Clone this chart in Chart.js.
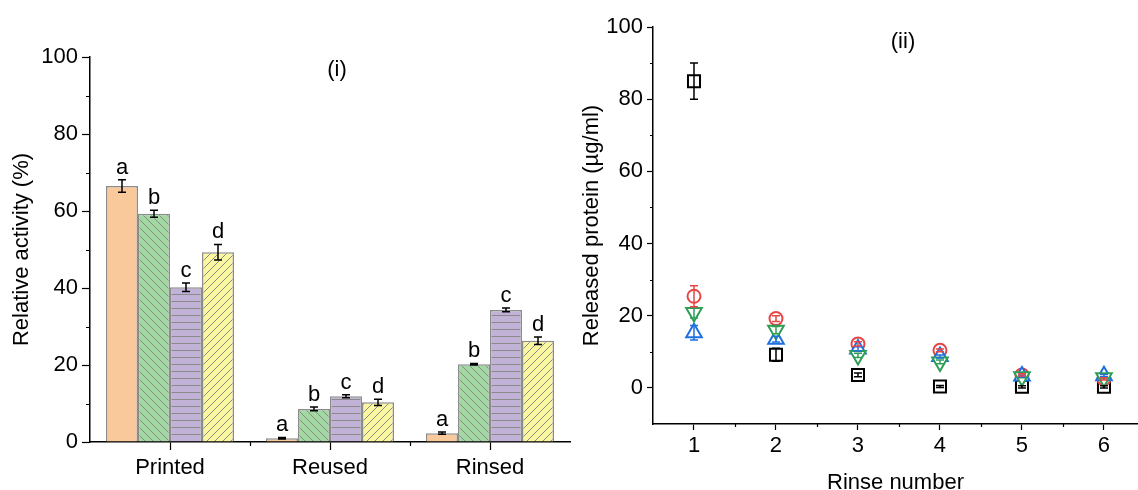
<!DOCTYPE html>
<html>
<head>
<meta charset="utf-8">
<script src="https://cdn.jsdelivr.net/npm/chart.js@4.4.1/dist/chart.umd.min.js"></script>
<style>
  html, body { margin: 0; padding: 0; background: #fff; overflow: hidden; width: 1138px; height: 490px; }
  #left { position: absolute; left: 0; top: 0; }
  #right { position: absolute; left: 560px; top: 0; }
</style>
</head>
<body>
<canvas id="left" width="585" height="490"></canvas>
<canvas id="right" width="578" height="490"></canvas>
<script>
// ---- Panel (i): relative activity per condition ----
const groups = ['Printed', 'Reused', 'Rinsed'];
const activityOrange = [66.5, 1.0, 2.3];
const activityOrangeErr = [1.6, 0.2, 0.3];
const activityGreen = [59.3, 8.6, 20.2];
const activityGreenErr = [0.9, 0.5, 0.2];
const activityPurple = [40.2, 11.9, 34.3];
const activityPurpleErr = [1.1, 0.4, 0.5];
const activityYellow = [49.3, 10.3, 26.3];
const activityYellowErr = [2.0, 0.8, 1.0];
const groupLetters = ['a', 'b', 'c', 'd'];
const activityTicks = [0, 20, 40, 60, 80, 100];
const activityMinorTicks = [10, 30, 50, 70, 90];

// ---- Panel (ii): released protein per rinse ----
const rinses = [1, 2, 3, 4, 5, 6];
const proteinSquare = [85.0, 9.2, 3.6, 0.4, 0.3, 0.3];
const proteinSquareErr = [5.0, 1.8, 0.5, 0.3, 0.3, 0.3];
const proteinCircle = [25.4, 19.2, 12.2, 10.4, 3.6, 2.5];
const proteinCircleErr = [2.9, 0.8, 0.6, 0.4, 0.3, 0.3];
const proteinDown = [20.9, 16.0, 9.0, 7.2, 3.1, 2.8];
const proteinDownErr = [1.5, 1.0, 0.6, 0.5, 0.3, 0.3];
const proteinUp = [15.3, 13.5, 10.8, 8.7, 3.3, 3.4];
const proteinUpErr = [2.0, 0.8, 0.6, 0.4, 0.3, 0.3];
const proteinTicks = [0, 20, 40, 60, 80, 100];
const proteinMinorTicks = [10, 30, 50, 70, 90];
const rinseMinorTicks = [1.5, 2.5, 3.5, 4.5, 5.5];

Chart.defaults.font.family = "'Liberation Sans', Arial, sans-serif";
Chart.defaults.font.size = 22;
Chart.defaults.color = '#000';
Chart.defaults.animation = false;

const FONT = "22px 'Liberation Sans', Arial, sans-serif";

function hatch(ctx, bg, kind) {
  const h = kind === 'h' ? 7 : 8;
  const c = document.createElement('canvas');
  c.width = 8; c.height = h;
  const g = c.getContext('2d');
  g.fillStyle = bg; g.fillRect(0, 0, 8, h);
  g.strokeStyle = '#8a8a8a'; g.lineWidth = 1;
  g.beginPath();
  if (kind === 'h') {
    g.moveTo(0, 0.5); g.lineTo(8, 0.5);
  } else if (kind === 'back') {
    g.moveTo(-1, -1); g.lineTo(9, 9);
    g.moveTo(-1, 7); g.lineTo(1, 9);
    g.moveTo(7, -1); g.lineTo(9, 1);
  } else {
    g.moveTo(-1, 9); g.lineTo(9, -1);
    g.moveTo(-1, 1); g.lineTo(1, -1);
    g.moveTo(7, 9); g.lineTo(9, 7);
  }
  g.stroke();
  return ctx.createPattern(c, 'repeat');
}

// Error bars (and optional letters) from each dataset's "errors" array
const errorBars = {
  id: 'errorBars',
  afterDatasetsDraw(chart, args, opts) {
    const ctx = chart.ctx;
    const ys = chart.scales.y;
    ctx.save();
    chart.data.datasets.forEach((ds, i) => {
      if (!ds.errors) return;
      const meta = chart.getDatasetMeta(i);
      meta.data.forEach((el, j) => {
        const raw = ds.data[j];
        const v = typeof raw === 'object' ? raw.y : raw;
        const e = ds.errors[j];
        const top = ys.getPixelForValue(v + e);
        const bot = ys.getPixelForValue(v - e);
        const x = el.x;
        const cap = opts.cap || 4;
        ctx.strokeStyle = ds.errorColor || '#000';
        ctx.lineWidth = 1.5;
        ctx.beginPath();
        ctx.moveTo(x, top); ctx.lineTo(x, bot);
        ctx.moveTo(x - cap, top); ctx.lineTo(x + cap, top);
        ctx.moveTo(x - cap, bot); ctx.lineTo(x + cap, bot);
        ctx.stroke();
        if (ds.letter) {
          ctx.fillStyle = '#000';
          ctx.font = FONT;
          ctx.textAlign = 'center';
          ctx.textBaseline = 'alphabetic';
          ctx.fillText(ds.letter, x, top - 6);
        }
      });
    });
    ctx.restore();
  }
};

// Short minor tick marks on the axes
const minorTicks = {
  id: 'minorTicks',
  afterDraw(chart, args, opts) {
    const ctx = chart.ctx;
    const area = chart.chartArea;
    ctx.save();
    ctx.strokeStyle = '#000';
    ctx.lineWidth = 1.2;
    ctx.beginPath();
    (opts.x || []).forEach(v => {
      const px = Math.round(chart.scales.x.getPixelForValue(v)) + 0.5;
      ctx.moveTo(px, area.bottom); ctx.lineTo(px, area.bottom + opts.len);
    });
    (opts.y || []).forEach(v => {
      const py = Math.round(chart.scales.y.getPixelForValue(v)) + 0.5;
      ctx.moveTo(area.left, py); ctx.lineTo(area.left - opts.len, py);
    });
    ctx.stroke();
    ctx.restore();
  }
};

// Panel caption such as "(i)"
const panelLabel = {
  id: 'panelLabel',
  afterDraw(chart, args, opts) {
    const ctx = chart.ctx;
    ctx.save();
    ctx.fillStyle = '#000';
    ctx.font = FONT;
    ctx.textAlign = 'center';
    ctx.textBaseline = 'middle';
    ctx.fillText(opts.text, chart.chartArea.left + opts.dx, chart.chartArea.top + opts.dy);
    ctx.restore();
  }
};

function fixedTicks(values) {
  return function (scale) { scale.ticks = values.map(v => ({ value: v })); };
}

// ---------- Panel (i) ----------
const leftCtx = document.getElementById('left').getContext('2d');
const barCommon = {
  borderColor: '#8c8c8c',
  borderWidth: 1.5,
  categoryPercentage: 0.8,
  barPercentage: 1.0
};
new Chart(leftCtx, {
  type: 'bar',
  data: {
    labels: groups,
    datasets: [
      Object.assign({ data: activityOrange, errors: activityOrangeErr, letter: groupLetters[0],
        backgroundColor: '#f9c99c' }, barCommon),
      Object.assign({ data: activityGreen, errors: activityGreenErr, letter: groupLetters[1],
        backgroundColor: hatch(leftCtx, '#a2d8a2', 'back') }, barCommon),
      Object.assign({ data: activityPurple, errors: activityPurpleErr, letter: groupLetters[2],
        backgroundColor: hatch(leftCtx, '#c2b2d8', 'h') }, barCommon),
      Object.assign({ data: activityYellow, errors: activityYellowErr, letter: groupLetters[3],
        backgroundColor: hatch(leftCtx, '#fbf6a0', 'fwd') }, barCommon)
    ]
  },
  options: {
    responsive: false,
    layout: { autoPadding: false, padding: { top: 57, right: 15, left: 0, bottom: 0 } },
    plugins: {
      legend: { display: false },
      tooltip: { enabled: false },
      errorBars: { cap: 4 },
      minorTicks: { x: [0.5, 1.5], y: activityMinorTicks, len: 4 },
      panelLabel: { text: '(i)', dx: 247, dy: 13 }
    },
    scales: {
      x: {
        grid: { display: true, drawOnChartArea: false, offset: false, tickLength: 8, tickColor: '#000', tickWidth: 1.2 },
        border: { display: true, color: '#000', width: 1.5 },
        ticks: { padding: 5, font: { size: 22 } },
        afterFit(scale) { scale.height = 48; }
      },
      y: {
        min: 0, max: 100,
        afterBuildTicks: fixedTicks(activityTicks),
        grid: { display: true, drawOnChartArea: false, tickLength: 8, tickColor: '#000', tickWidth: 1.2 },
        border: { display: true, color: '#000', width: 1.5 },
        ticks: { padding: 4, font: { size: 22 } },
        title: { display: true, text: 'Relative activity (%)', font: { size: 22, lineHeight: 1.2 }, padding: { top: 9, bottom: 0 } },
        afterFit(scale) { scale.width = 90; }
      }
    }
  },
  plugins: [errorBars, minorTicks, panelLabel]
});

// ---------- Panel (ii) ----------
const rightCtx = document.getElementById('right').getContext('2d');
function pts(values) { return rinses.map((r, i) => ({ x: r, y: values[i] })); }
const markerCommon = { pointBorderWidth: 2, pointBackgroundColor: '#fff', showLine: false };
new Chart(rightCtx, {
  type: 'scatter',
  data: {
    datasets: [
      Object.assign({ data: pts(proteinDown), errors: proteinDownErr, errorColor: '#2e9e55',
        pointStyle: 'triangle', rotation: 180, pointRadius: 9, pointBorderColor: '#2e9e55' }, markerCommon),
      Object.assign({ data: pts(proteinUp), errors: proteinUpErr, errorColor: '#1f6fe0',
        pointStyle: 'triangle', pointRadius: 9, pointBorderColor: '#1f6fe0' }, markerCommon),
      Object.assign({ data: pts(proteinCircle), errors: proteinCircleErr, errorColor: '#e84545',
        pointStyle: 'circle', pointRadius: 6.5, pointBorderColor: '#e84545' }, markerCommon),
      Object.assign({ data: pts(proteinSquare), errors: proteinSquareErr, errorColor: '#000',
        pointStyle: 'rect', pointRadius: 8.5, pointBorderColor: '#000' }, markerCommon)
    ]
  },
  options: {
    responsive: false,
    layout: { autoPadding: false, padding: { top: 27, right: 0, left: 0, bottom: 0 } },
    plugins: {
      legend: { display: false },
      tooltip: { enabled: false },
      errorBars: { cap: 4 },
      minorTicks: { x: rinseMinorTicks, y: proteinMinorTicks, len: 3 },
      panelLabel: { text: '(ii)', dx: 250, dy: 15 }
    },
    scales: {
      x: {
        type: 'linear',
        min: 0.5, max: 6.415,
        afterBuildTicks: fixedTicks(rinses),
        grid: { display: true, drawOnChartArea: false, tickLength: 6, tickColor: '#000', tickWidth: 1.2 },
        border: { display: true, color: '#000', width: 1.5 },
        ticks: { padding: 3, font: { size: 22 } },
        title: { display: true, text: 'Rinse number', font: { size: 22, lineHeight: 1.2 }, padding: { top: 0, bottom: -6 } },
        afterFit(scale) { scale.height = 66; scale.paddingLeft = 0; scale.paddingRight = 0; }
      },
      y: {
        min: -10, max: 100,
        afterBuildTicks: fixedTicks(proteinTicks),
        grid: { display: true, drawOnChartArea: false, tickLength: 6, tickColor: '#000', tickWidth: 1.2 },
        border: { display: true, color: '#000', width: 1.5 },
        ticks: { padding: 4, font: { size: 22 } },
        title: { display: true, text: 'Released protein (µg/ml)', font: { size: 22, lineHeight: 1.2 }, padding: { top: 19, bottom: 0 } },
        afterFit(scale) { scale.width = 93; scale.paddingTop = 0; scale.paddingBottom = 0; }
      }
    }
  },
  plugins: [errorBars, minorTicks, panelLabel]
});
</script>
</body>
</html>
